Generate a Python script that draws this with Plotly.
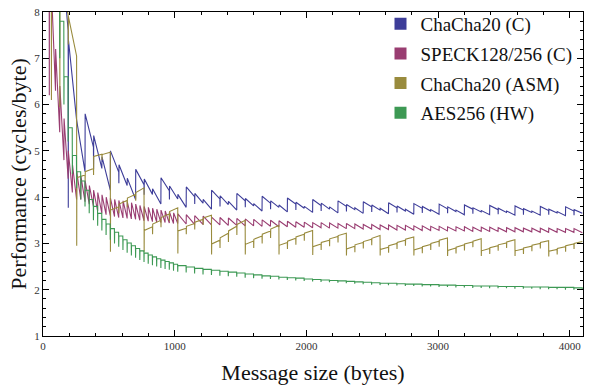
import plotly.graph_objects as go

# ---------------- data (cycles/byte vs message size) ----------------
# ChaCha20 (C): early points, then 64-byte blocks from 320 (start/end values), dips at multiples of 192
blue_early_x = [130, 191, 192, 193, 255, 319]
blue_early_y = [9.6, 7.6, 3.77, 7.4, 5.67, 4.55]
blue_blk_start = [5.80, 5.33, 4.87, 5.00, 4.70, 4.41, 4.60, 4.39, 4.18, 4.42, 4.24, 4.06,
                  4.22, 4.08, 3.95, 4.15, 4.03, 3.91, 4.08, 3.97, 3.86, 4.02, 3.92, 3.83,
                  3.98, 3.89, 3.80, 3.95, 3.87, 3.79, 3.92, 3.84, 3.77, 3.90, 3.83, 3.76,
                  3.88, 3.81, 3.74, 3.86, 3.80, 3.73, 3.85, 3.79, 3.72, 3.83, 3.77, 3.71,
                  3.82, 3.76, 3.70, 3.81, 3.75, 3.70, 3.80, 3.74, 3.69, 3.79, 3.73]
blue_blk_end = [5.08, 4.62, 4.15, 4.54, 4.25, 3.95, 4.27, 4.06, 3.85, 4.14, 3.96, 3.78,
                4.01, 3.87, 3.74, 3.96, 3.84, 3.72, 3.92, 3.81, 3.70, 3.87, 3.78, 3.68,
                3.85, 3.76, 3.67, 3.82, 3.74, 3.66, 3.80, 3.73, 3.65, 3.79, 3.72, 3.64,
                3.77, 3.70, 3.63, 3.76, 3.70, 3.63, 3.75, 3.69, 3.62, 3.74, 3.68, 3.62,
                3.73, 3.67, 3.61, 3.72, 3.67, 3.61, 3.71, 3.66, 3.60, 3.70, 3.65]
blue_dip = [4.60, 4.30, 4.05, 3.95, 3.85, 3.80, 3.78, 3.74, 3.72, 3.70,
            3.69, 3.68, 3.67, 3.66, 3.65, 3.64, 3.63, 3.62, 3.62, 3.61]

# ChaCha20 (ASM): early points, then 256-byte periods with four 64-byte sub-blocks
olive_early_x = [60, 63, 64, 65, 127, 128, 129, 191, 192, 193, 255]
olive_early_y = [9.8, 9.3, 6.1, 9.4, 8.7, 5.95, 8.6, 7.95, 7.3, 7.9, 7.05]
olive_low = [2.95, 2.82, 2.82, 2.78, 2.76, 2.76, 2.76, 2.75, 2.74, 2.74, 2.74, 2.73, 2.73, 2.73, 2.72]
olive_start = [[4.42, 4.55, 4.88, 4.92], [3.72, 3.85, 3.98, 4.10], [3.28, 3.42, 3.56, 3.69],
               [3.27, 3.37, 3.46, 3.55], [2.99, 3.12, 3.27, 3.41], [2.98, 3.09, 3.20, 3.31],
               [2.96, 3.05, 3.14, 3.22], [2.93, 3.02, 3.10, 3.17], [2.88, 2.97, 3.04, 3.11],
               [2.87, 2.95, 3.02, 3.09], [2.86, 2.93, 3.00, 3.07], [2.85, 2.92, 2.99, 3.05],
               [2.84, 2.91, 2.97, 3.03], [2.84, 2.90, 2.96, 3.02], [2.83, 2.89, 2.95, 3.00]]
olive_end = [[4.48, 4.62, 4.93, 4.97], [3.79, 3.93, 4.06, 4.20], [3.36, 3.50, 3.64, 3.77],
             [3.33, 3.43, 3.52, 3.61], [3.07, 3.22, 3.37, 3.50], [3.05, 3.16, 3.27, 3.39],
             [3.02, 3.11, 3.20, 3.28], [2.99, 3.07, 3.15, 3.22], [2.94, 3.02, 3.09, 3.17],
             [2.92, 3.00, 3.07, 3.14], [2.91, 2.98, 3.05, 3.12], [2.90, 2.97, 3.03, 3.10],
             [2.89, 2.95, 3.01, 3.08], [2.88, 2.94, 3.00, 3.06], [2.87, 2.93, 2.99, 3.04]]
olive_sub_dip = [[4.35, 4.48, 4.80], [3.65, 3.78, 3.92], [3.20, 3.35, 3.48],
                 [3.20, 3.30, 3.40], [2.90, 3.03, 3.18], [2.90, 3.00, 3.12],
                 [2.88, 2.97, 3.06], [2.86, 2.94, 3.02], [2.81, 2.89, 2.96],
                 [2.80, 2.88, 2.95], [2.79, 2.86, 2.93], [2.78, 2.85, 2.92],
                 [2.77, 2.84, 2.90], [2.77, 2.83, 2.89], [2.76, 2.82, 2.88]]

# SPECK128/256 (C): 32-byte blocks up to 1024, then 64-byte blocks (high/low per block)
mag_early_x = [30, 47, 48, 49, 63]
mag_early_y = [10.5, 8.7, 6.2, 9.0, 8.7]
mag_hi_a = [8.5, 7.2, 6.4, 5.7, 5.0, 4.7, 4.55, 4.45, 4.35, 4.25, 4.15, 4.10, 4.05, 4.00, 3.98,
            3.95, 3.93, 3.92, 3.90, 3.88, 3.85, 3.82, 3.80, 3.78, 3.76, 3.74, 3.72, 3.70, 3.68, 3.66]
mag_lo_a = [6.3, 5.4, 4.8, 4.4, 4.1, 3.95, 3.95, 3.90, 3.85, 3.80, 3.70, 3.65, 3.62, 3.60, 3.58,
            3.56, 3.55, 3.54, 3.53, 3.52, 3.50, 3.49, 3.48, 3.47, 3.46, 3.45, 3.45, 3.44, 3.43, 3.43]
mag_hi_b = [3.64, 3.62, 3.60, 3.59, 3.57, 3.56, 3.55, 3.54, 3.53, 3.52, 3.51, 3.50, 3.49, 3.48, 3.47, 3.46,
            3.45, 3.45, 3.44, 3.43, 3.43, 3.42, 3.41, 3.41, 3.40, 3.40, 3.39, 3.39, 3.38, 3.38, 3.37, 3.37,
            3.36, 3.36, 3.36, 3.35, 3.35, 3.35, 3.34, 3.34, 3.34, 3.33, 3.33, 3.33, 3.33, 3.32, 3.32, 3.32]
mag_lo_b = [3.42, 3.41, 3.41, 3.40, 3.40, 3.39, 3.39, 3.38, 3.38, 3.37, 3.37, 3.36, 3.36, 3.35, 3.35, 3.34,
            3.34, 3.33, 3.33, 3.32, 3.32, 3.31, 3.31, 3.30, 3.30, 3.29, 3.29, 3.29, 3.28, 3.28, 3.28, 3.27,
            3.27, 3.27, 3.26, 3.26, 3.26, 3.26, 3.25, 3.25, 3.25, 3.25, 3.24, 3.24, 3.24, 3.24, 3.24, 3.23]

# AES256 (HW): level and dip per block (32-byte blocks up to 1024, then 64-byte)
gr_hi_a = [8.8, 7.8, 6.6, 5.5, 4.9, 4.55, 4.35, 4.15, 3.95, 3.80, 3.65, 3.52, 3.42, 3.32, 3.24,
           3.16, 3.08, 3.01, 2.95, 2.89, 2.84, 2.79, 2.75, 2.71, 2.67, 2.64, 2.61, 2.58, 2.55]
gr_lo_a = [7.0, 6.0, 5.2, 4.5, 4.2, 3.95, 3.80, 3.65, 3.50, 3.38, 3.28, 3.18, 3.08, 3.00, 2.93,
           2.86, 2.80, 2.74, 2.69, 2.64, 2.60, 2.56, 2.53, 2.50, 2.47, 2.45, 2.43, 2.41, 2.39]
gr_hi_b = [2.52, 2.49, 2.46, 2.44, 2.42, 2.40, 2.38, 2.36, 2.34, 2.32, 2.30, 2.29, 2.27, 2.26, 2.25, 2.23,
           2.22, 2.21, 2.20, 2.19, 2.18, 2.17, 2.16, 2.15, 2.14, 2.14, 2.13, 2.12, 2.12, 2.11, 2.11, 2.10,
           2.10, 2.09, 2.09, 2.08, 2.08, 2.08, 2.07, 2.07, 2.07, 2.06, 2.06, 2.06, 2.05, 2.05, 2.05, 2.04]
gr_lo_b = [2.37, 2.35, 2.33, 2.32, 2.30, 2.29, 2.28, 2.26, 2.25, 2.24, 2.23, 2.22, 2.21, 2.20, 2.19, 2.18,
           2.17, 2.16, 2.15, 2.14, 2.13, 2.12, 2.11, 2.10, 2.10, 2.09, 2.08, 2.08, 2.07, 2.07, 2.06, 2.06,
           2.05, 2.05, 2.04, 2.04, 2.03, 2.03, 2.03, 2.02, 2.02, 2.02, 2.01, 2.01, 2.01, 2.00, 2.00, 2.00]

series_names = ["ChaCha20 (C)", "SPECK128/256 (C)", "ChaCha20 (ASM)", "AES256 (HW)"]
series_colors = ["#3d3d99", "#993d71", "#998b3d", "#3d9954"]
x_ticks = [0, 1000, 2000, 3000, 4000]
y_ticks = [1, 2, 3, 4, 5, 6, 7, 8]

# ---------------- build polylines ----------------
bx, by = list(blue_early_x), list(blue_early_y)
d = 0
for i, s in enumerate(range(320, 4096, 64)):
    if s % 192 == 0:
        bx.append(s); by.append(blue_dip[d]); d += 1
        bx.append(s + 1)
    else:
        bx.append(s)
    by.append(blue_blk_start[i])
    bx.append(s + 63); by.append(blue_blk_end[i])

ox, oy = list(olive_early_x), list(olive_early_y)
for p, s in enumerate(range(256, 4096, 256)):
    ox.append(s); oy.append(olive_low[p])
    for j in range(4):
        if j > 0:
            ox.append(s + 64 * j); oy.append(olive_sub_dip[p][j - 1])
        ox.append(s + 64 * j + 1); oy.append(olive_start[p][j])
        ox.append(s + 64 * j + 63); oy.append(olive_end[p][j])

mx, my = list(mag_early_x), list(mag_early_y)
for i, s in enumerate(range(64, 1024, 32)):
    mx += [s, s + 31]; my += [mag_hi_a[i], mag_lo_a[i]]
for i, s in enumerate(range(1024, 4096, 64)):
    mx += [s, s + 63]; my += [mag_hi_b[i], mag_lo_b[i]]

gx, gy = [], []
for i, s in enumerate(range(96, 1024, 32)):
    gx += [s, s + 30, s + 31]; gy += [gr_hi_a[i], gr_hi_a[i], gr_lo_a[i]]
for i, s in enumerate(range(1024, 4096, 64)):
    gx += [s, s + 62, s + 63]; gy += [gr_hi_b[i], gr_hi_b[i], gr_lo_b[i]]

fig = go.Figure()
for (xs, ys), c in zip([(bx, by), (mx, my), (ox, oy), (gx, gy)], series_colors):
    fig.add_trace(go.Scatter(x=xs, y=ys, mode="lines", line=dict(color=c, width=1.1),
                             showlegend=False, hoverinfo="skip"))
for k, (n, c) in enumerate(zip(series_names, series_colors)):
    fig.add_trace(go.Scatter(x=[None], y=[None], mode="markers", name=n, legendgroup=str(k),
                             marker=dict(symbol="square", size=12, color=c)))

serif = "Liberation Serif"
axis_common = dict(showline=True, linecolor="black", linewidth=1, mirror="ticks",
                   ticks="inside", ticklen=6, tickcolor="black", tickwidth=1,
                   showgrid=False, zeroline=False,
                   tickfont=dict(family=serif, size=11, color="#333"))
fig.update_layout(
    width=589, height=386,
    margin=dict(l=43, r=6, t=5, b=50),
    paper_bgcolor="white", plot_bgcolor="white",
    xaxis=dict(range=[0, 4100], tickvals=x_ticks, automargin=False,
               minor=dict(dtick=200, tick0=0, ticks="inside", ticklen=3, tickcolor="black", showgrid=False),
               title=dict(text="Message size (bytes)", font=dict(family=serif, size=22, color="#111"), standoff=13),
               **axis_common),
    yaxis=dict(range=[1, 8], tickvals=y_ticks, automargin=False,
               minor=dict(dtick=0.2, tick0=1, ticks="inside", ticklen=3, tickcolor="black", showgrid=False),
               title=dict(text="Performance (cycles/byte)", font=dict(family=serif, size=22, color="#111"), standoff=1),
               **axis_common),
    legend=dict(x=0.625, y=1.022, xanchor="left", yanchor="top", bgcolor="rgba(0,0,0,0)",
                font=dict(family=serif, size=19, color="#111"), traceorder="grouped",
                tracegroupgap=2, itemsizing="trace"),
)
fig.write_html("out.html", config={"displayModeBar": False},
               post_script="document.body.style.margin='0px';")
